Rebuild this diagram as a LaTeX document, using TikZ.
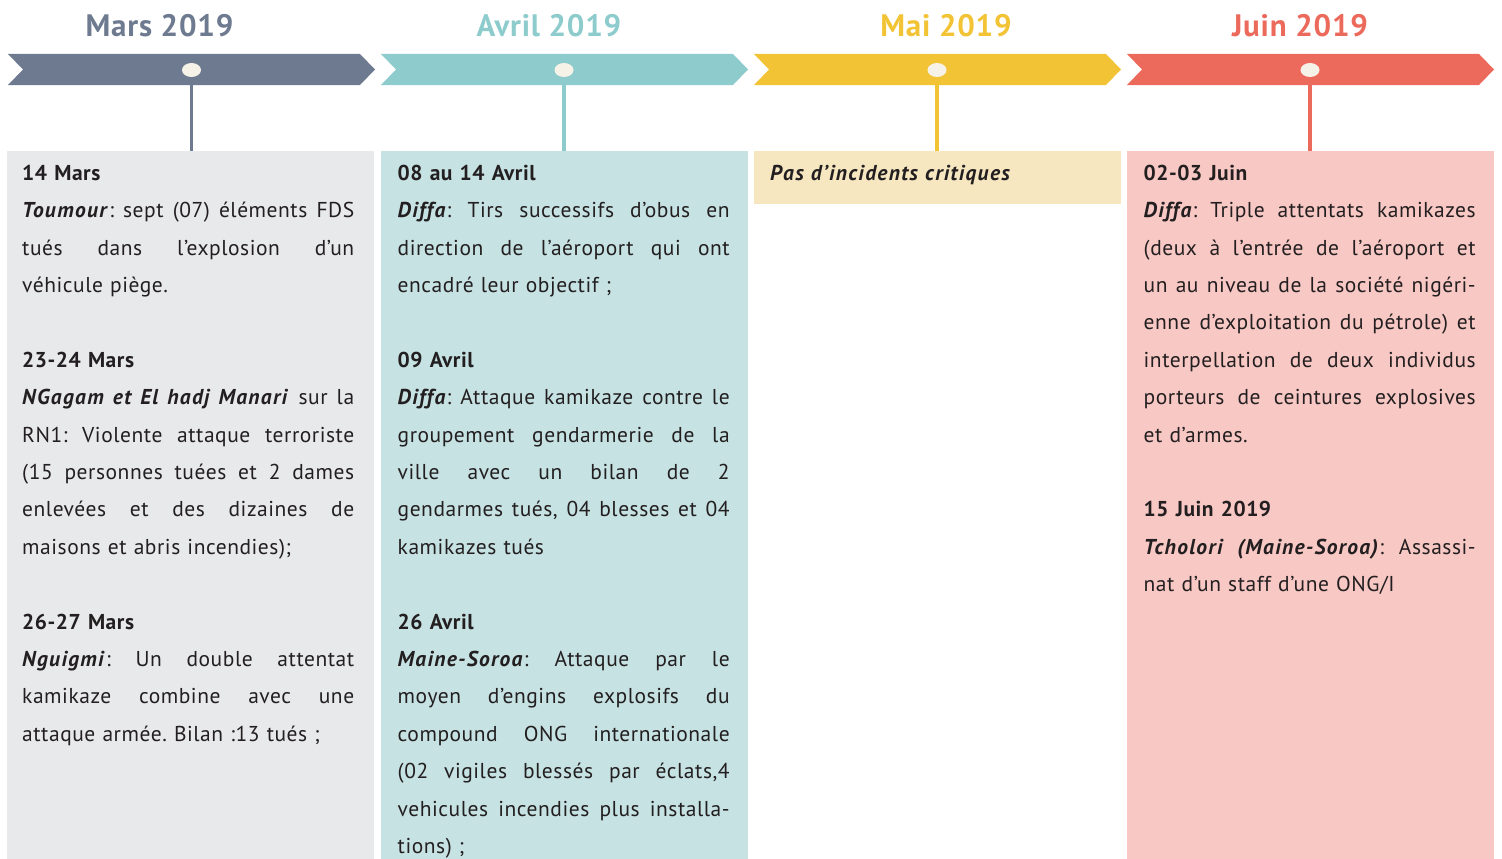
\documentclass[tikz,border=0pt]{standalone}
\usepackage{fontspec}
\setmainfont{PT Sans}[LetterSpace=2.5, BoldItalicFeatures={LetterSpace=6}]
\usetikzlibrary{shapes.geometric}
\setlength{\parindent}{0pt}
\frenchspacing
\definecolor{marsA}{HTML}{6E7A8F}
\definecolor{marsB}{HTML}{E8E9EB}
\definecolor{avrA}{HTML}{8DCBCC}
\definecolor{avrB}{HTML}{C6E2E3}
\definecolor{maiA}{HTML}{F2C335}
\definecolor{maiB}{HTML}{F6E7C1}
\definecolor{juinA}{HTML}{EC6A5C}
\definecolor{juinB}{HTML}{F8C8C4}
\definecolor{dotc}{HTML}{F6F2E8}
\definecolor{ink}{HTML}{231F20}
\newcommand\jl[1]{\leavevmode\hbox to 332pt{\spaceskip=0.24em plus 1fil\relax #1}\\}
\newcommand\fl{\rule{0pt}{29pt}}
\newcommand\bi[1]{\textbf{\textit{#1}}}
\begin{document}
\begin{tikzpicture}[x=1pt,y=-1pt,
  box/.style={rectangle, draw=none, inner sep=0pt, anchor=north west, minimum width=367pt},
  dotnode/.style={ellipse, fill=dotc, draw=none, minimum width=19pt, minimum height=14pt, inner sep=0pt},
  stem/.style={line width=3.5pt},
  title/.style={anchor=base, font=\fontsize{31}{36}\selectfont\bfseries},
  body/.style={anchor=north west, inner sep=0pt, text width=334pt, align=left, text=ink,
    font=\fontsize{21.5}{37.4}\selectfont}]
\useasboundingbox (0,0) rectangle (1502,859);
% arrows
\foreach \L/\c in {8/marsA,381/avrA,754/maiA,1127/juinA}{
  \fill[\c] (\L,54) -- (\L+352,54) -- (\L+367,69.5) -- (\L+352,85) -- (\L,85) -- (\L+15,69.5) -- cycle;
}
% titles
\node[title, text=marsA] (tm) at (159.5,37) {Mars 2019};
\node[title, text=avrA] (ta) at (549,37) {Avril 2019};
\node[title, text=maiA] (tmai) at (946,37) {Mai 2019};
\node[title, text=juinA] (tj) at (1300,37) {Juin 2019};
% boxes
\node[box, fill=marsB, minimum height=708pt] (mbox) at (7,151) {};
\node[box, fill=avrB, minimum height=708pt] (abox) at (380.5,151) {};
\node[box, fill=maiB, minimum height=53pt] (maibox) at (753.5,151) {};
\node[box, fill=juinB, minimum height=708pt] (jbox) at (1126.5,151) {};
% dots
\node[dotnode] (mdot) at (191.5,70) {};
\node[dotnode] (adot) at (564,70) {};
\node[dotnode] (maidot) at (937,70) {};
\node[dotnode] (jdot) at (1310,70) {};
% stems
\draw[stem, marsA] (mdot.south) -- (mdot.south |- mbox.north);
\draw[stem, avrA] (adot.south) -- (adot.south |- abox.north);
\draw[stem, maiA] (maidot.south) -- (maidot.south |- maibox.north);
\draw[stem, juinA] (jdot.south) -- (jdot.south |- jbox.north);
% texts
\node[body] (mtext) at (22,151) {\fl\textbf{14 Mars}\\
\jl{\bi{Toumour}: sept (07) éléments FDS}
\jl{tués dans l’explosion d’un}
véhicule piège.\\
\mbox{}\\
\textbf{23-24 Mars}\\
\jl{\bi{NGagam et El hadj Manari} sur la}
\jl{RN1: Violente attaque terroriste}
\jl{(15 personnes tuées et 2 dames}
\jl{enlevées et des dizaines de}
maisons et abris incendies);\\
\mbox{}\\
\textbf{26-27 Mars}\\
\jl{\bi{Nguigmi}: Un double attentat}
\jl{kamikaze combine avec une}
attaque armée. Bilan :13 tués ;};
\node[body] (atext) at (397.5,151) {\fl\textbf{08 au 14 Avril}\\
\jl{\bi{Diffa}: Tirs successifs d’obus en}
\jl{direction de l’aéroport qui ont}
encadré leur objectif ;\\
\mbox{}\\
\textbf{09 Avril}\\
\jl{\bi{Diffa}: Attaque kamikaze contre le}
\jl{groupement gendarmerie de la}
\jl{ville avec un bilan de 2}
\jl{gendarmes tués, 04 blesses et 04}
kamikazes tués\\
\mbox{}\\
\textbf{26 Avril}\\
\jl{\bi{Maine-Soroa}: Attaque par le}
\jl{moyen d’engins explosifs du}
\jl{compound ONG internationale}
\jl{(02 vigiles blessés par éclats,4}
\jl{vehicules incendies plus installa-}
tions) ;};
\node[body] (maitext) at (770,151) {\fl\bi{Pas d’incidents critiques}};
\node[body] (jtext) at (1143.5,151) {\fl\textbf{02-03 Juin}\\
\jl{\bi{Diffa}: Triple attentats kamikazes}
\jl{(deux à l’entrée de l’aéroport et}
\jl{un au niveau de la société nigéri-}
\jl{enne d’exploitation du pétrole) et}
\jl{interpellation de deux individus}
\jl{porteurs de ceintures explosives}
et d’armes.\\
\mbox{}\\
\textbf{15 Juin 2019}\\
\jl{\bi{Tcholori (Maine-Soroa)}: Assassi-}
nat d’un staff d’une ONG/I};
\end{tikzpicture}
\end{document}
